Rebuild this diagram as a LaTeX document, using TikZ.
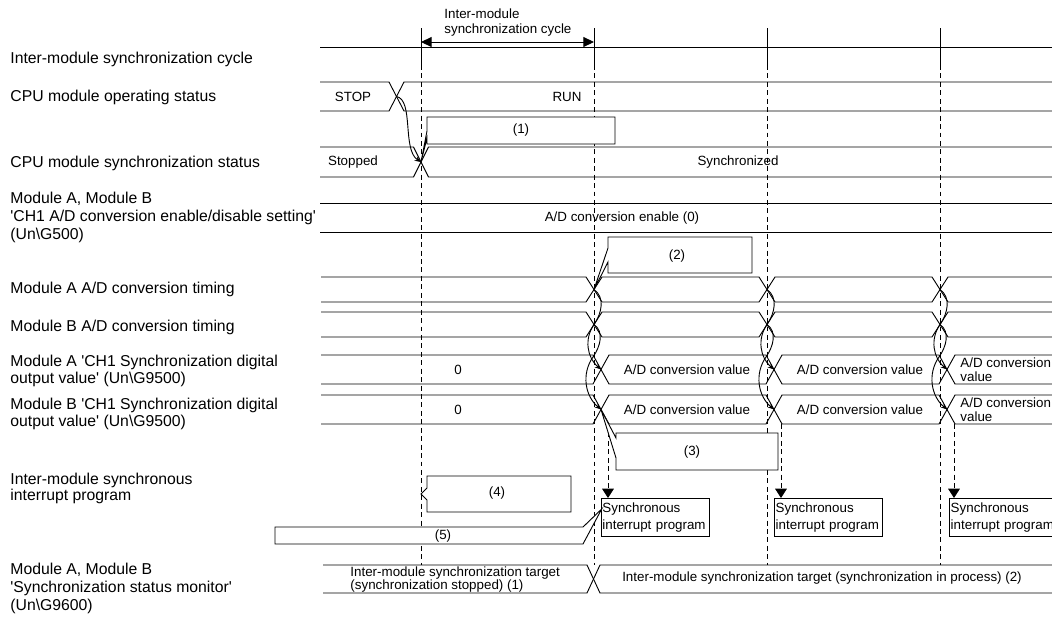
\documentclass[tikz,border=0pt]{standalone}
\usepackage{fontspec}
\setmainfont{Liberation Sans}
\usetikzlibrary{arrows.meta,calc}
\newcommand{\sq}{\textquotesingle}
\newcommand{\progfont}{\fontsize{9.5}{12}\selectfont\hyphenpenalty=10000\relax}

\begin{document}
\begin{tikzpicture}[x=0.025cm,y=0.025cm,line width=0.65pt,every node/.style={inner sep=0pt}]
\tikzstyle{lbl}=[anchor=west,align=left,font=\fontsize{11.2}{12.8}\selectfont]
\tikzstyle{lbltwo}=[lbl,font=\fontsize{11.2}{11.6}\selectfont]
\tikzstyle{txt}=[font=\fontsize{9.5}{11}\selectfont]
\tikzstyle{txttwo}=[anchor=west,align=left,font=\fontsize{9.5}{10}\selectfont]
\tikzstyle{guide}=[dash pattern=on 3.5pt off 2.5pt]
\tikzstyle{callout}=[draw,fill=white]
\tikzstyle{flow}=[-{Stealth[length=4.5pt,width=3.5pt]}]
\tikzstyle{trig}=[guide,-{Triangle[length=6.6pt,width=8.3pt]}]
\tikzstyle{prog}=[draw,fill=white,anchor=north west,align=left,text width=75pt,inner xsep=0.9pt,minimum height=0.95cm,font=\progfont]

\clip (0,0) rectangle (1052,-619);

% signal names
\node[lbl] (lcycle) at (10,-59) {Inter-module synchronization cycle};
\node[lbl] (lcpu) at (10,-97) {CPU module operating status};
\node[lbl] (lsync) at (10,-163) {CPU module synchronization status};
\node[lbl] (lenable) at (10,-217) {Module A, Module B\\\sq CH1 A/D conversion enable/disable setting\sq\\(Un\textbackslash G500)};
\node[lbl] (ltima) at (10,-289) {Module A A/D conversion timing};
\node[lbl] (ltimb) at (10,-327.5) {Module B A/D conversion timing};
\node[lbltwo] (louta) at (10,-371) {Module A \sq CH1 Synchronization digital\\output value\sq{} (Un\textbackslash G9500)};
\node[lbltwo] (loutb) at (10,-414) {Module B \sq CH1 Synchronization digital\\output value\sq{} (Un\textbackslash G9500)};
\node[lbltwo] (lint) at (10,-488.5) {Inter-module synchronous\\interrupt program};
\node[lbl] (lmon) at (10,-588) {Module A, Module B\\\sq Synchronization status monitor\sq\\(Un\textbackslash G9600)};

% cycle marks
\foreach \c in {421,594,767,940} {
  \draw (\c,-28) -- (\c,-65);
  \draw[guide] (\c,-65) -- (\c,-565);
}
\coordinate (k1) at (421,-42);
\coordinate (k2) at (594,-42);
\draw[{Triangle[length=7.5pt,width=7pt]}-{Triangle[length=7.5pt,width=7pt]}] (k1) -- (k2);
\node[txttwo,font=\fontsize{9.5}{10.7}\selectfont] (kcycle) at (444,-22.5) {Inter-module\\synchronization cycle};
\draw (320,-47.5) -- (1052,-47.5);

% CPU operating status
\draw (320,-82) -- (389,-82) -- (404,-111) -- (1052,-111);
\draw (320,-111) -- (389,-111) -- (404,-82) -- (1052,-82);
\coordinate (runx) at (396.5,-96.5);
\node[txt] (stop) at (353,-97) {STOP};
\node[txt] (run) at (567,-97) {RUN};

% CPU synchronization status
\draw (320,-147) -- (413.5,-147) -- (428.5,-177) -- (1052,-177);
\draw (320,-177) -- (413.5,-177) -- (428.5,-147) -- (1052,-147);
\coordinate (syncx) at (421,-162);
\node[txt] (stopped) at (353,-162) {Stopped};
\node[txt] (synced) at (738,-162) {Synchronized};

% enable setting
\draw (320,-203) -- (1052,-203) (320,-232) -- (1052,-232);
\node[txt] (enable) at (622,-218) {A/D conversion enable (0)};

% timing and output rows
\foreach \ya/\yb/\dx in {277/302/0, 312/337/0, 355/384/7, 395/424/7} {
  \draw (321,-\ya) -- (586+\dx,-\ya) -- (602+\dx,-\yb) -- (759+\dx,-\yb) -- (775+\dx,-\ya) -- (932+\dx,-\ya) -- (948+\dx,-\yb) -- (1052,-\yb);
  \draw (321,-\yb) -- (586+\dx,-\yb) -- (602+\dx,-\ya) -- (759+\dx,-\ya) -- (775+\dx,-\yb) -- (932+\dx,-\yb) -- (948+\dx,-\ya) -- (1052,-\ya);
}
\foreach \c [count=\i] in {594,767,940} {
  \coordinate (ta\i) at (\c,-289.5);
  \coordinate (tb\i) at (\c,-324.5);
  \coordinate (mb\i) at (\c-1,-357);
  \coordinate (oa\i) at (\c+7,-369.5);
  \coordinate (ob\i) at (\c+7,-409.5);
  \coordinate (d\i) at (\c+14,-424);
}
\node[txt] (za) at (458,-369.5) {0};
\node[txt] (zb) at (458,-409.5) {0};
\node[txt] (va1) at (687,-369.5) {A/D conversion value};
\node[txt] (va2) at (860,-369.5) {A/D conversion value};
\node[txttwo] (va3) at (960,-369.5) {A/D conversion\\value};
\node[txt] (vb1) at (687,-409.5) {A/D conversion value};
\node[txt] (vb2) at (860,-409.5) {A/D conversion value};
\node[txttwo] (vb3) at (960,-409.5) {A/D conversion\\value};

% synchronous interrupt programs
\node[prog] (p1) at (600.7,-498) {Synchronous\\interrupt program};
\node[prog] (p2) at (774,-498) {Synchronous\\interrupt program};
\node[prog] (p3) at (949,-498) {Synchronous\\interrupt program};

\foreach \i in {1,2,3} {
  \draw[flow] (ta\i) to[out=-35,in=55] (tb\i) to[out=-125,in=140] (oa\i);
  \draw[flow] (tb\i) to[out=-35,in=55] (mb\i) to[out=-125,in=140] (ob\i);
  \draw[trig] (d\i) -- (d\i |- p\i.north);
}
\draw[flow] (runx) .. controls (414,-100) and (402,-150) .. (syncx);

% synchronization status monitor
\draw (323,-565) -- (587,-565) -- (600,-593) -- (1052,-593);
\draw (323,-593) -- (587,-593) -- (600,-565) -- (1052,-565);
\node[txttwo,font=\fontsize{9.5}{9.8}\selectfont] (monstop) at (350,-579.5) {Inter-module synchronization target\\(synchronization stopped) (1)};
\node[txt] (monrun) at (822,-578.5) {Inter-module synchronization target (synchronization in process) (2)};

% notes
\draw[callout] (syncx) -- (427,-138) -- (427,-144) -- (615,-144) -- (615,-117) -- (427,-117) -- (427,-131) -- cycle;
\node[txt] (n1) at (521,-130.5) {(1)};
\draw[callout] (ta1) -- (608,-262) -- (608,-273) -- (752,-273) -- (752,-237) -- (608,-237) -- (608,-248) -- cycle;
\node[txt] (n2) at (677,-256) {(2)};
\draw[callout] (ob1) -- (616,-458) -- (616,-470) -- (778,-470) -- (778,-433) -- (616,-433) -- (616,-438) -- cycle;
\node[txt] (n3) at (692,-452) {(3)};
\coordinate (g4) at (421,-494);
\draw[callout] (g4) -- (427,-500) -- (427,-512) -- (571,-512) -- (571,-476) -- (427,-476) -- (427,-488) -- cycle;
\node[txt] (n4) at (497,-493.5) {(4)};
\coordinate (g5) at ($(p1.north west)+(1,-11)$);
\draw[callout] (g5) -- (583,-527) -- (275,-527) -- (275,-544) -- (583,-544) -- cycle;
\node[txt] (n5) at (443,-536) {(5)};
\end{tikzpicture}
\end{document}
